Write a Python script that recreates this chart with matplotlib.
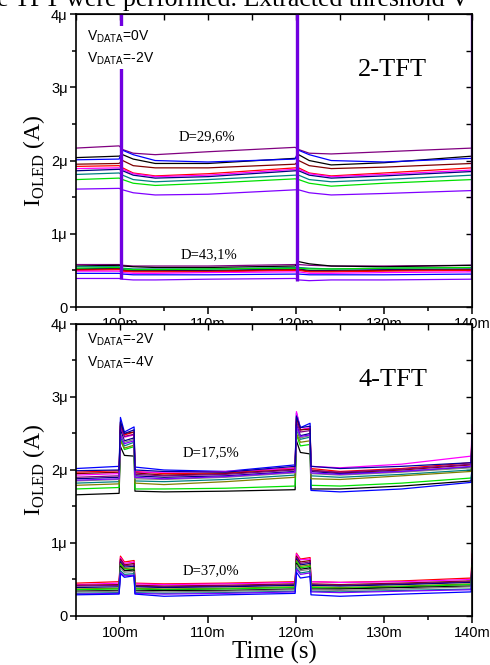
import matplotlib.pyplot as plt
from matplotlib.ticker import MultipleLocator, FuncFormatter

plt.rcParams['font.family'] = ['Liberation Sans', 'DejaVu Sans']

# ---- 2-TFT panel (time in ms, current in uA) ----
t_2tft = [95, 99.9, 100.3, 101.5, 104, 110, 119.9, 120.3, 121.5, 124, 130, 140]

# D=29,6 %
colors_2tft_hi = ['#800080', '#000000', '#0000FF', '#800000', '#FF0000', '#FF00FF',
                  '#000080', '#008080', '#00E000', '#8000FF']
i_2tft_hi = [
    [2.17, 2.20, 2.15, 2.10, 2.08, 2.12, 2.18, 2.15, 2.10, 2.09, 2.12, 2.17],
    [2.04, 2.06, 2.08, 2.02, 1.96, 1.96, 2.03, 2.08, 2.00, 1.94, 1.97, 2.06],
    [2.01, 2.02, 2.14, 2.08, 2.00, 1.98, 2.02, 2.14, 2.08, 2.00, 1.98, 2.03],
    [1.95, 1.96, 2.00, 1.93, 1.90, 1.90, 1.95, 2.00, 1.93, 1.89, 1.91, 1.96],
    [1.92, 1.93, 1.90, 1.83, 1.79, 1.82, 1.90, 1.90, 1.83, 1.79, 1.83, 1.90],
    [1.89, 1.90, 1.88, 1.82, 1.78, 1.80, 1.88, 1.88, 1.82, 1.78, 1.81, 1.87],
    [1.86, 1.88, 1.86, 1.80, 1.76, 1.78, 1.86, 1.86, 1.80, 1.76, 1.79, 1.85],
    [1.81, 1.83, 1.80, 1.74, 1.71, 1.74, 1.80, 1.80, 1.74, 1.71, 1.74, 1.80],
    [1.74, 1.76, 1.74, 1.69, 1.66, 1.69, 1.75, 1.74, 1.69, 1.65, 1.69, 1.74],
    [1.61, 1.62, 1.60, 1.56, 1.53, 1.54, 1.60, 1.60, 1.56, 1.53, 1.55, 1.59],
]

# D=43,1 %
colors_2tft_lo = ['#800080', '#000000', '#000080', '#008080', '#00E000', '#800000',
                  '#FF0000', '#FF00FF', '#0000FF', '#8000FF']
i_2tft_lo = [
    [0.58, 0.58, 0.57, 0.56, 0.56, 0.56, 0.58, 0.58, 0.57, 0.56, 0.56, 0.57],
    [0.56, 0.57, 0.56, 0.55, 0.54, 0.54, 0.56, 0.62, 0.59, 0.56, 0.55, 0.57],
    [0.52, 0.53, 0.51, 0.50, 0.50, 0.50, 0.52, 0.52, 0.50, 0.50, 0.51, 0.52],
    [0.55, 0.55, 0.53, 0.52, 0.52, 0.52, 0.54, 0.54, 0.53, 0.52, 0.53, 0.54],
    [0.53, 0.54, 0.52, 0.51, 0.51, 0.52, 0.53, 0.53, 0.52, 0.52, 0.53, 0.54],
    [0.51, 0.52, 0.50, 0.49, 0.49, 0.49, 0.51, 0.51, 0.49, 0.49, 0.50, 0.51],
    [0.50, 0.51, 0.49, 0.48, 0.48, 0.48, 0.50, 0.50, 0.48, 0.48, 0.49, 0.50],
    [0.49, 0.49, 0.47, 0.46, 0.46, 0.47, 0.48, 0.48, 0.46, 0.46, 0.47, 0.48],
    [0.46, 0.46, 0.45, 0.44, 0.44, 0.44, 0.45, 0.45, 0.44, 0.44, 0.44, 0.45],
    [0.39, 0.39, 0.38, 0.37, 0.37, 0.38, 0.39, 0.37, 0.36, 0.37, 0.37, 0.38],
]

# switching spikes (they go off scale)
spike_t = [100.1, 120.1, 140.0]
spike_lo = [0.38, 0.36, 0.38]

# ---- 4-TFT panel ----
t_4tft = [95, 99.9, 100.05, 100.5, 101.6, 101.7, 105, 112, 119.9,
          120.05, 120.5, 121.6, 121.7, 125, 132, 139.9, 140]

# D=17,5 %
colors_4tft_hi = ['#000000', '#00E000', '#0000FF', '#FF0000', '#FF00FF', '#800000',
                  '#000080', '#008080', '#808000', '#808080', '#800080', '#8000FF',
                  '#0000A0']
i_4tft_hi = [
    [1.66, 1.68, 2.32, 2.20, 2.19, 1.71, 1.70, 1.71, 1.73, 2.40, 2.24, 2.22, 1.74, 1.74, 1.78, 1.85, 1.95],
    [1.74, 1.76, 2.42, 2.28, 2.32, 1.74, 1.74, 1.75, 1.78, 2.48, 2.33, 2.35, 1.79, 1.78, 1.82, 1.89, 2.00],
    [2.02, 2.05, 2.72, 2.52, 2.59, 2.04, 2.00, 1.98, 2.07, 2.78, 2.58, 2.64, 1.72, 1.70, 1.74, 1.83, 2.10],
    [1.97, 1.99, 2.62, 2.48, 2.52, 1.98, 1.95, 1.96, 2.03, 2.70, 2.55, 2.57, 2.02, 1.98, 2.02, 2.10, 2.55],
    [1.93, 1.95, 2.58, 2.45, 2.48, 1.97, 1.97, 1.98, 2.02, 2.80, 2.55, 2.58, 2.05, 2.03, 2.08, 2.19, 2.62],
    [1.95, 1.97, 2.65, 2.50, 2.52, 1.96, 1.93, 1.95, 2.01, 2.72, 2.55, 2.56, 2.00, 1.96, 2.00, 2.07, 2.50],
    [1.88, 1.90, 2.55, 2.40, 2.44, 1.92, 1.90, 1.92, 1.98, 2.62, 2.47, 2.50, 1.98, 1.95, 1.98, 2.04, 2.40],
    [1.82, 1.84, 2.45, 2.33, 2.38, 1.85, 1.84, 1.87, 1.93, 2.55, 2.42, 2.45, 1.92, 1.90, 1.94, 2.00, 2.30],
    [1.79, 1.81, 2.40, 2.30, 2.34, 1.82, 1.80, 1.84, 1.90, 2.50, 2.38, 2.40, 1.88, 1.87, 1.92, 1.98, 2.25],
    [1.85, 1.87, 2.50, 2.38, 2.42, 1.88, 1.87, 1.90, 1.96, 2.58, 2.44, 2.47, 1.95, 1.93, 1.97, 2.03, 2.35],
    [1.90, 1.92, 2.60, 2.46, 2.49, 1.94, 1.92, 1.94, 2.00, 2.66, 2.52, 2.54, 1.99, 1.97, 2.01, 2.08, 2.45],
    [1.86, 1.88, 2.48, 2.36, 2.40, 1.90, 1.88, 1.91, 1.97, 2.60, 2.46, 2.48, 1.96, 1.94, 1.98, 2.05, 2.38],
    [1.99, 2.00, 2.66, 2.50, 2.55, 2.00, 1.98, 1.97, 2.05, 2.74, 2.58, 2.60, 2.05, 2.02, 2.05, 2.10, 2.50],
]

# D=37,0 %
colors_4tft_lo = ['#FF0000', '#FF00FF', '#800000', '#800080', '#000080', '#808000',
                  '#00E000', '#000000', '#808080', '#008080', '#8000FF', '#0000FF']
i_4tft_lo = [
    [0.45, 0.47, 0.82, 0.74, 0.76, 0.45, 0.44, 0.45, 0.47, 0.86, 0.78, 0.80, 0.47, 0.46, 0.48, 0.52, 0.85],
    [0.43, 0.45, 0.80, 0.72, 0.74, 0.44, 0.43, 0.44, 0.46, 0.85, 0.77, 0.78, 0.47, 0.46, 0.47, 0.50, 0.80],
    [0.42, 0.43, 0.78, 0.70, 0.72, 0.42, 0.41, 0.42, 0.44, 0.82, 0.74, 0.76, 0.44, 0.43, 0.45, 0.48, 0.78],
    [0.41, 0.42, 0.76, 0.69, 0.70, 0.41, 0.40, 0.41, 0.43, 0.80, 0.72, 0.74, 0.43, 0.42, 0.44, 0.47, 0.75],
    [0.39, 0.40, 0.74, 0.67, 0.68, 0.40, 0.39, 0.40, 0.42, 0.78, 0.70, 0.72, 0.42, 0.41, 0.43, 0.46, 0.72],
    [0.37, 0.38, 0.72, 0.65, 0.66, 0.38, 0.37, 0.38, 0.40, 0.76, 0.68, 0.70, 0.40, 0.39, 0.41, 0.44, 0.70],
    [0.36, 0.37, 0.70, 0.63, 0.64, 0.37, 0.36, 0.37, 0.39, 0.74, 0.66, 0.68, 0.39, 0.38, 0.40, 0.43, 0.68],
    [0.34, 0.35, 0.68, 0.62, 0.63, 0.35, 0.35, 0.35, 0.37, 0.72, 0.64, 0.66, 0.37, 0.37, 0.39, 0.41, 0.66],
    [0.33, 0.34, 0.66, 0.60, 0.61, 0.34, 0.33, 0.34, 0.36, 0.70, 0.62, 0.64, 0.36, 0.35, 0.37, 0.40, 0.63],
    [0.31, 0.32, 0.62, 0.57, 0.58, 0.32, 0.31, 0.32, 0.34, 0.66, 0.59, 0.61, 0.34, 0.33, 0.35, 0.37, 0.60],
    [0.30, 0.31, 0.60, 0.55, 0.56, 0.31, 0.30, 0.31, 0.33, 0.64, 0.57, 0.59, 0.33, 0.32, 0.34, 0.36, 0.58],
    [0.29, 0.30, 0.58, 0.53, 0.55, 0.30, 0.27, 0.29, 0.31, 0.60, 0.52, 0.54, 0.29, 0.27, 0.30, 0.33, 0.55],
]

serif = ['Liberation Serif', 'DejaVu Serif']


def style_axis(ax):
    ax.set_xlim(95, 140)
    ax.set_ylim(0, 4)
    ax.xaxis.set_major_locator(MultipleLocator(10))
    ax.xaxis.set_minor_locator(MultipleLocator(5))
    ax.yaxis.set_major_locator(MultipleLocator(1))
    ax.yaxis.set_minor_locator(MultipleLocator(0.5))
    ax.xaxis.set_major_formatter(FuncFormatter(lambda v, p: '%gm' % v))
    ax.yaxis.set_major_formatter(FuncFormatter(lambda v, p: '0' if v == 0 else '%gμ' % v))
    ax.tick_params(which='both', direction='out', width=1.1, labelsize=10.5, pad=2)
    ax.tick_params(which='major', length=4)
    ax.tick_params(which='minor', length=3)
    ax.tick_params(axis='x', which='major', length=5)
    # inward ticks on the top and right frame
    ax.tick_params(which='both', top=False, right=False)
    for s in ax.spines.values():
        s.set_linewidth(1.2)
    sec_x = ax.secondary_xaxis('top')
    sec_x.xaxis.set_major_locator(MultipleLocator(5))
    sec_x.tick_params(direction='in', length=4, width=1.0, labeltop=False)
    sec_y = ax.secondary_yaxis('right')
    sec_y.yaxis.set_major_locator(MultipleLocator(0.5))
    sec_y.tick_params(direction='in', length=4, width=1.0, labelright=False)
    ax.set_ylabel(r'I$_\mathregular{OLED}$ (A)', family=serif, fontsize=17, labelpad=3)


fig = plt.figure(figsize=(4.9, 6.65), dpi=100)

fig.text(-0.006, 1 - 6 / 665, 'e TFT were performed. Extracted threshold V',
         family=serif, fontsize=18.5, va='baseline', ha='left')

# top panel: 2-TFT
ax1 = fig.add_axes([0.1551, 0.5383, 0.8082, 0.4406])
for c, y in zip(colors_2tft_hi, i_2tft_hi):
    ax1.plot(t_2tft, y, color=c, lw=0.9)
for c, y in zip(colors_2tft_lo, i_2tft_lo):
    ax1.plot(t_2tft, y, color=c, lw=0.9)
ax1.vlines(spike_t, spike_lo, 4.3, color='#7000E0', lw=2.4)
style_axis(ax1)
ax1.text(0.028, 0.885, 'V$_\\mathregular{DATA}$=0V\nV$_\\mathregular{DATA}$=-2V',
         transform=ax1.transAxes, fontsize=10, va='center', ha='left', linespacing=1.5,
         bbox=dict(facecolor='white', edgecolor='none', pad=1.5))
ax1.text(0.80, 0.81, '2-TFT', transform=ax1.transAxes, family=serif,
         fontsize=19, ha='center', va='center')
ax1.text(0.33, 0.58, 'D=29,6%', transform=ax1.transAxes, family=serif,
         fontsize=10.5, ha='center', va='center')
ax1.text(0.335, 0.18, 'D=43,1%', transform=ax1.transAxes, family=serif,
         fontsize=10.5, ha='center', va='center')

# bottom panel: 4-TFT
ax2 = fig.add_axes([0.1551, 0.0737, 0.8082, 0.4391])
for c, y in zip(colors_4tft_hi, i_4tft_hi):
    ax2.plot(t_4tft, y, color=c, lw=0.9)
for c, y in zip(colors_4tft_lo, i_4tft_lo):
    ax2.plot(t_4tft, y, color=c, lw=0.9)
style_axis(ax2)
ax2.text(0.028, 0.906, 'V$_\\mathregular{DATA}$=-2V\nV$_\\mathregular{DATA}$=-4V',
         transform=ax2.transAxes, fontsize=10, va='center', ha='left', linespacing=1.5)
ax2.text(0.80, 0.808, '4-TFT', transform=ax2.transAxes, family=serif,
         fontsize=19, ha='center', va='center')
ax2.text(0.34, 0.558, 'D=17,5%', transform=ax2.transAxes, family=serif,
         fontsize=10.5, ha='center', va='center')
ax2.text(0.34, 0.154, 'D=37,0%', transform=ax2.transAxes, family=serif,
         fontsize=10.5, ha='center', va='center')
ax2.set_xlabel('Time (s)', family=serif, fontsize=18, labelpad=1)

fig.savefig('out.png', dpi=100)
